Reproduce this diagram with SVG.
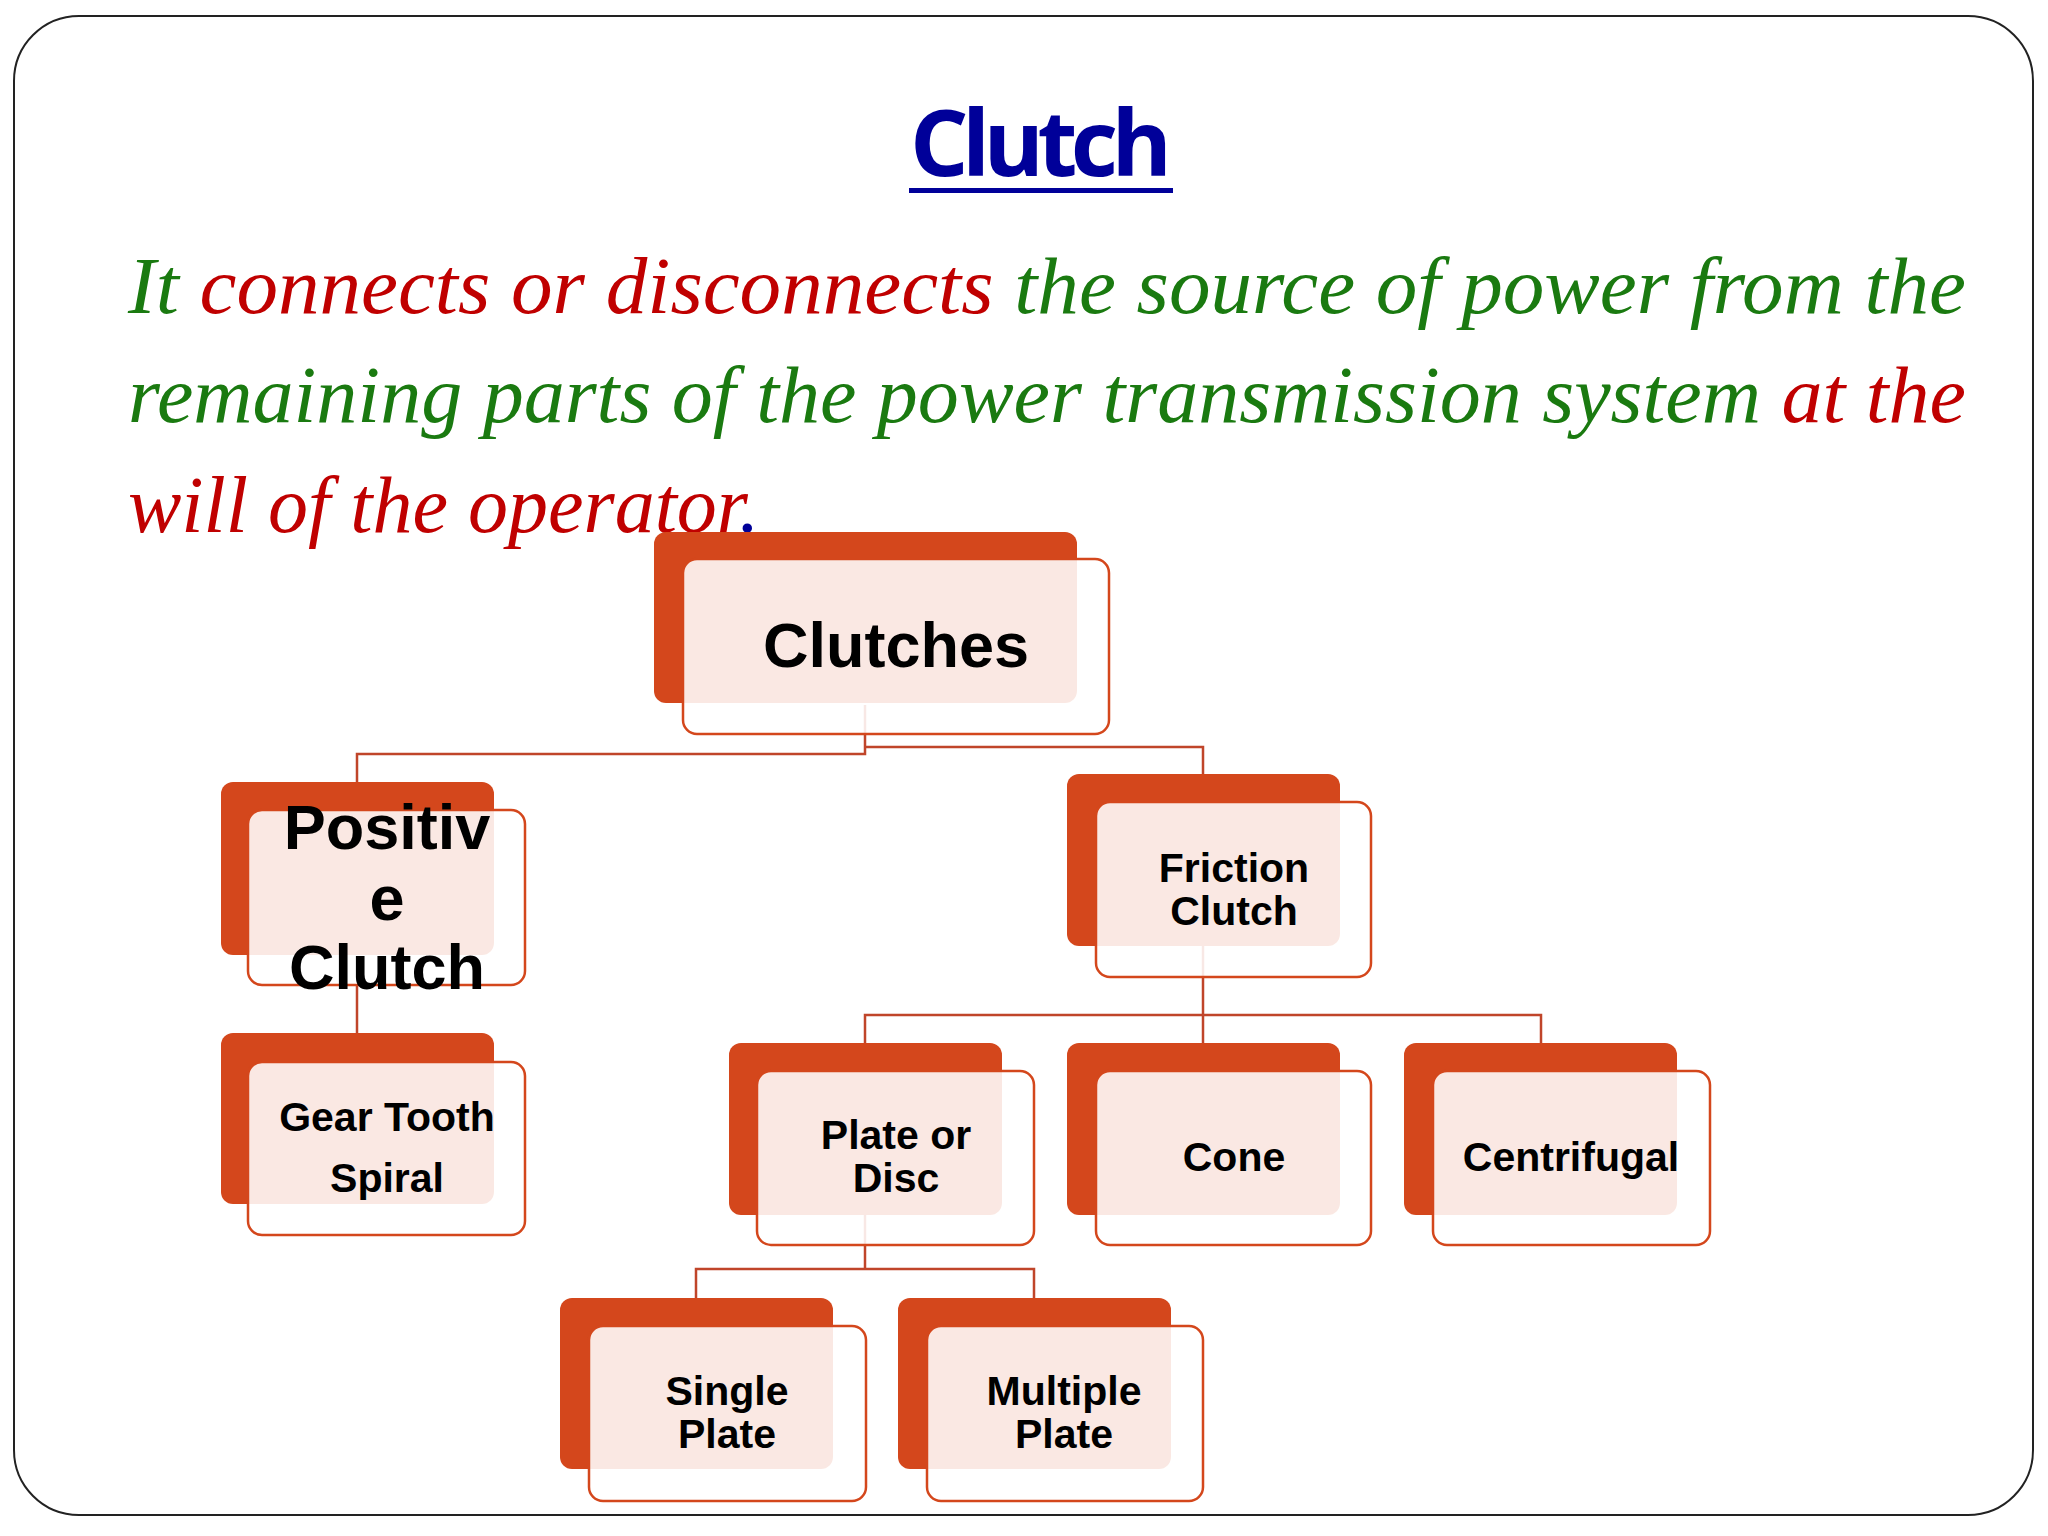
<svg xmlns="http://www.w3.org/2000/svg" width="2048" height="1536" viewBox="0 0 2048 1536">
<style>
.bk{fill:#D4471C}
.fr{fill:#fff;fill-opacity:0.88;stroke:#D4471C;stroke-width:2.5}
.t{font-family:"Liberation Sans",Arial,sans-serif;font-weight:bold;fill:#000;text-anchor:middle}
.c{fill:none;stroke:#C0452A;stroke-width:2.5}
.p{font-family:"Liberation Serif","Times New Roman",serif;font-style:italic;font-size:80px}
.g{fill:#1A7A10}.r{fill:#C00000}
</style>
<rect width="2048" height="1536" fill="#fff"/>
<rect x="14" y="16" width="2019" height="1499" rx="65" fill="#fff" stroke="#222" stroke-width="2"/>
<text x="1041" y="176" font-family="'Open Sans','Liberation Sans',sans-serif" font-weight="bold" font-size="92" fill="#000099" text-anchor="middle" textLength="262">Clutch</text>
<rect x="909" y="188" width="264" height="5" fill="#000099"/>
<text class="p" y="313" x="128" textLength="1838" lengthAdjust="spacingAndGlyphs"><tspan class="g">It </tspan><tspan class="r">connects or disconnects </tspan><tspan class="g">the source of power from the</tspan></text>
<text class="p" y="422" x="128" textLength="1838" lengthAdjust="spacingAndGlyphs"><tspan class="g">remaining parts of the power transmission system </tspan><tspan class="r">at the</tspan></text>
<text class="p" y="532" x="128"><tspan class="r">will of the operator</tspan><tspan fill="#000099">.</tspan></text>
<g id="connectors">
<polyline class="c" points="865,705 865,754 357,754 357,782"/>
<polyline class="c" points="865,747 1203,747 1203,774"/>
<line class="c" x1="357" y1="985" x2="357" y2="1033"/>
<line class="c" x1="1203" y1="946" x2="1203" y2="1043"/>
<polyline class="c" points="865,1043 865,1015 1541,1015 1541,1043"/>
<polyline class="c" points="865,1215 865,1269"/>
<polyline class="c" points="696,1298 696,1269 1034,1269 1034,1298"/>
</g>
<g id="clutches"><rect class="bk" x="654" y="532" width="423" height="171" rx="12"/><rect class="fr" x="683" y="559" width="426" height="175" rx="14"/><text class="t" x="896" y="667" font-size="63">Clutches</text></g>
<g id="positive"><rect class="bk" x="221" y="782" width="273" height="173" rx="12"/><rect class="fr" x="248" y="810" width="277" height="175" rx="14"/><text class="t" font-size="63"><tspan x="387" y="849">Positiv</tspan><tspan x="387" y="920">e</tspan><tspan x="387" y="989">Clutch</tspan></text></g>
<g id="gear"><rect class="bk" x="221" y="1033" width="273" height="171" rx="12"/><rect class="fr" x="248" y="1062" width="277" height="173" rx="14"/><text class="t" font-size="41"><tspan x="387" y="1131">Gear Tooth</tspan><tspan x="387" y="1192">Spiral</tspan></text></g>
<g id="friction"><rect class="bk" x="1067" y="774" width="273" height="172" rx="12"/><rect class="fr" x="1096" y="802" width="275" height="175" rx="14"/><text class="t" font-size="41"><tspan x="1234" y="882">Friction</tspan><tspan x="1234" y="925">Clutch</tspan></text></g>
<g id="plate"><rect class="bk" x="729" y="1043" width="273" height="172" rx="12"/><rect class="fr" x="757" y="1071" width="277" height="174" rx="14"/><text class="t" font-size="41"><tspan x="896" y="1149">Plate or</tspan><tspan x="896" y="1192">Disc</tspan></text></g>
<g id="cone"><rect class="bk" x="1067" y="1043" width="273" height="172" rx="12"/><rect class="fr" x="1096" y="1071" width="275" height="174" rx="14"/><text class="t" x="1234" y="1171" font-size="41">Cone</text></g>
<g id="centrifugal"><rect class="bk" x="1404" y="1043" width="273" height="172" rx="12"/><rect class="fr" x="1433" y="1071" width="277" height="174" rx="14"/><text class="t" x="1571" y="1171" font-size="41">Centrifugal</text></g>
<g id="single"><rect class="bk" x="560" y="1298" width="273" height="171" rx="12"/><rect class="fr" x="589" y="1326" width="277" height="175" rx="14"/><text class="t" font-size="41"><tspan x="727" y="1405">Single</tspan><tspan x="727" y="1448">Plate</tspan></text></g>
<g id="multiple"><rect class="bk" x="898" y="1298" width="273" height="171" rx="12"/><rect class="fr" x="927" y="1326" width="276" height="175" rx="14"/><text class="t" font-size="41"><tspan x="1064" y="1405">Multiple</tspan><tspan x="1064" y="1448">Plate</tspan></text></g>
</svg>
